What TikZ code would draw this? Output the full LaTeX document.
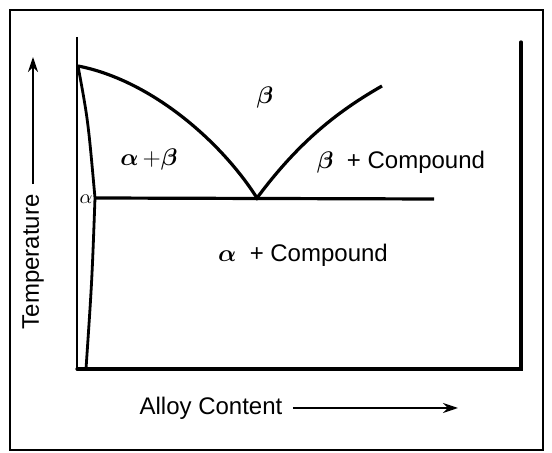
\documentclass[tikz,border=0pt]{standalone}
\usepackage{amsmath}
\usepackage{fontspec}
\setmainfont{Liberation Sans}
\usetikzlibrary{arrows.meta}

\begin{document}
\begin{tikzpicture}[x=0.5pt,y=-0.5pt,every node/.style={font=\fontsize{12}{14}\selectfont,inner sep=0pt},
  curve/.style={line width=1.6pt},
  axisarrow/.style={line width=1pt,-{Stealth[length=7.5pt,width=5pt]}}]
\useasboundingbox (0,0) rectangle (552,453);
\draw[line width=0.8pt] (10,10) rectangle (543,450);
\coordinate (tl) at (77,37);\coordinate (bl) at (77,369);
\coordinate (br) at (521,369);\coordinate (tr) at (521,42);
\coordinate (m) at (78,66);\coordinate (s) at (95,198);\coordinate (sb) at (86,369);
\coordinate (e) at (257,198);\coordinate (l) at (382,86);\coordinate (r) at (434,199);
\draw[line width=0.9pt] (tl)--(bl);
\draw[curve,line cap=round] (bl)--(br)--(tr);
\draw[line width=1.4pt] (m) .. controls (88,120) .. (s) .. controls (92,280) .. (sb);
\draw[curve] (m) .. controls (150,80) and (220,140) .. (e) .. controls (300,140) and (340,110) .. (l);
\draw[curve] (s)--(r);
\node (beta) at (265,98) {$\boldsymbol{\beta}$};
\node (ab) at (149,160) {$\boldsymbol{\alpha}\,{+}\boldsymbol{\beta}$};
\node (bc) at (401,162) {$\boldsymbol{\beta}$\ \ + Compound};
\node (ac) at (303,255) {$\boldsymbol{\alpha}$\ \ + Compound};
\node[font=\fontsize{10}{12}\selectfont] (alpha) at (86,199) {$\alpha$};
\node[rotate=90] (temp) at (33,262) {Temperature};
\coordinate (ttip) at (33,57);
\draw[axisarrow] ([yshift=5pt]temp.east) -- (ttip);
\node (alloy) at (211,408) {Alloy Content};
\coordinate (atip) at (458,408);
\draw[axisarrow] ([xshift=5pt]alloy.east) -- (atip);
\end{tikzpicture}
\end{document}
